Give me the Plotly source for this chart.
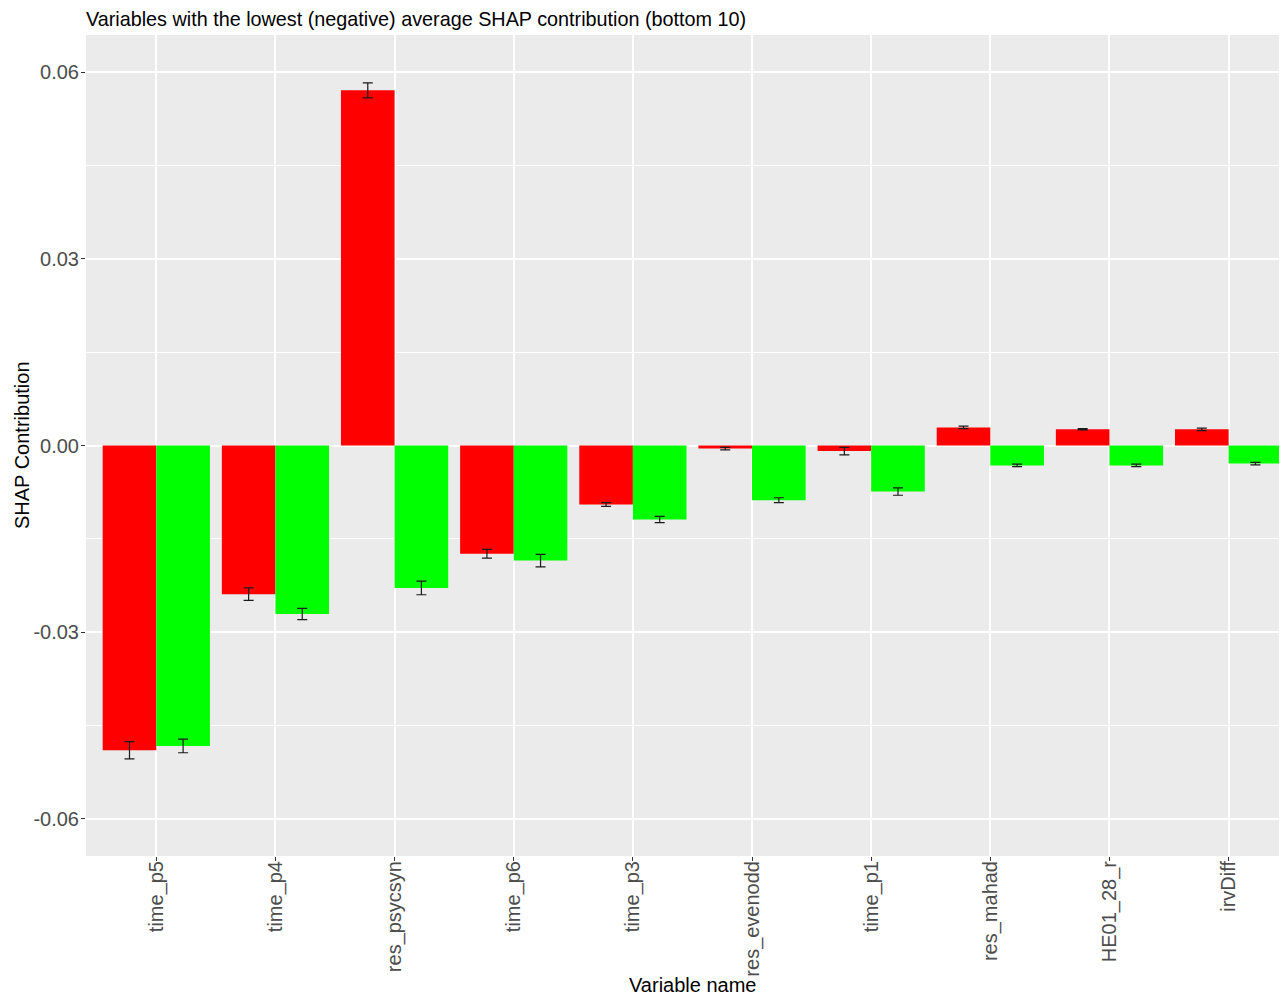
import plotly.graph_objects as go

variables = ["time_p5", "time_p4", "res_psycsyn", "time_p6", "time_p3",
             "res_evenodd", "time_p1", "res_mahad", "HE01_28_r", "irvDiff"]
red_values = [-0.0490, -0.0239, 0.0571, -0.0174, -0.0095,
              -0.0005, -0.0009, 0.0029, 0.0026, 0.0026]
red_errors = [0.0014, 0.0010, 0.0012, 0.0007, 0.0003,
              0.0002, 0.0006, 0.0002, 0.0001, 0.0002]
green_values = [-0.0483, -0.0271, -0.0229, -0.0185, -0.0119,
                -0.0088, -0.0074, -0.0032, -0.0032, -0.0029]
green_errors = [0.0011, 0.0009, 0.0011, 0.0010, 0.0005,
                0.0004, 0.0006, 0.0002, 0.0002, 0.0002]
y_ticks = [-0.06, -0.03, 0.00, 0.03, 0.06]
y_tick_labels = ["-0.06", "-0.03", "0.00", "0.03", "0.06"]

# page body has an 8px margin; compensate so the plot lands where the reference has it
OFF = 8
W, H = 1287 - OFF, 996 - OFF
L, R, T, B = 86 - OFF, 0, 35 - OFF, 140
PH = H - T - B
PW = W - L - R

err_style = dict(type="data", visible=True, color="#1a1a1a", thickness=1.2, width=5)

fig = go.Figure()
fig.add_trace(go.Bar(x=variables, y=red_values, marker_color="#FF0000", marker_line_width=0,
                     error_y=dict(array=red_errors, **err_style), name="red", showlegend=False))
fig.add_trace(go.Bar(x=variables, y=green_values, marker_color="#00FF00", marker_line_width=0,
                     error_y=dict(array=green_errors, **err_style), name="green", showlegend=False))

font_family = "Liberation Sans, Arial, sans-serif"
fig.update_layout(
    width=W, height=H,
    margin=dict(l=L, r=R, t=T, b=B, autoexpand=False),
    barmode="group", bargap=0.1, bargroupgap=0,
    plot_bgcolor="#EBEBEB", paper_bgcolor="white",
    font=dict(family=font_family, color="black"),
    title=dict(text="Variables with the lowest (negative) average SHAP contribution (bottom 10)",
               x=L / W, xanchor="left", xref="container",
               y=1 - (19 - OFF) / H, yanchor="middle", yref="container",
               font=dict(size=19.8, color="black", family=font_family)),
    annotations=[
        dict(text="Variable name", xref="paper", yref="paper",
             x=(692 - 86) / PW, y=-(985 - 856) / PH,
             xanchor="center", yanchor="middle", showarrow=False,
             font=dict(size=20, color="black", family=font_family)),
        dict(text="SHAP Contribution", xref="paper", yref="paper",
             x=-(86 - 22) / PW, y=(856 - 445) / PH,
             xanchor="center", yanchor="middle", textangle=-90, showarrow=False,
             font=dict(size=20, color="black", family=font_family)),
    ],
)
fig.update_xaxes(
    type="category", range=[-0.59, 9.49], automargin=False,
    showgrid=True, gridcolor="white", gridwidth=1.5,
    ticks="outside", ticklen=4, tickcolor="#333333", tickwidth=1,
    tickangle=-90, tickfont=dict(size=20, color="#4D4D4D"),
    ticklabelstandoff=-8,
    showline=False, zeroline=False,
)
fig.update_yaxes(
    range=[-0.066, 0.066], automargin=False,
    tickvals=y_ticks, ticktext=y_tick_labels,
    showgrid=True, gridcolor="white", gridwidth=1.5,
    minor=dict(dtick=0.015, tick0=0, showgrid=True, gridcolor="white", gridwidth=0.7),
    ticks="outside", ticklen=4, tickcolor="#333333", tickwidth=1,
    tickfont=dict(size=20, color="#4D4D4D"),
    ticklabelstandoff=-2,
    zeroline=False, showline=False,
)

fig.write_html("out.html")
